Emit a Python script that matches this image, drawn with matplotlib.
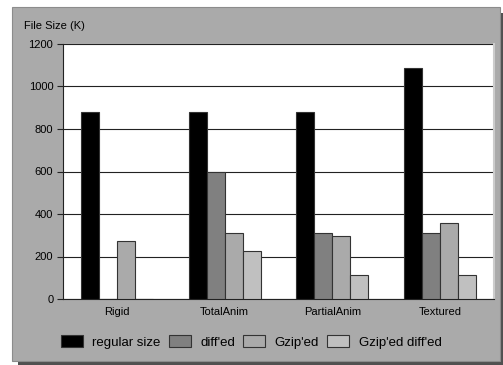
import numpy as np
import matplotlib.pyplot as plt
from matplotlib.patches import Rectangle

categories = ['Rigid', 'TotalAnim', 'PartialAnim', 'Textured']
series_names = ['regular size', "diff'ed", "Gzip'ed", "Gzip'ed diff'ed"]
regular_size = [880, 880, 880, 1085]
diffed = [0, 600, 312, 312]
gzipped = [275, 312, 297, 356]
gzip_diffed = [0, 228, 115, 115]
yticks = [0, 200, 400, 600, 800, 1000, 1200]

colors = ['#000000', '#808080', '#aaaaaa', '#c0c0c0']

plt.rcParams['font.family'] = ['Liberation Sans', 'DejaVu Sans']

W, H = 503, 365
fig = plt.figure(figsize=(W / 100, H / 100), dpi=100, facecolor='white')

# grey frame with drop shadow, in pixel coords converted to figure fractions
def px_rect(x0, y0, x1, y1, **kw):
    r = Rectangle((x0 / W, 1 - y1 / H), (x1 - x0) / W, (y1 - y0) / H,
                  transform=fig.transFigure, **kw)
    fig.patches.append(r)

px_rect(18, 13, 503, 365, facecolor='#505050', edgecolor='none', zorder=0)
px_rect(12, 7, 500, 361, facecolor='#aaaaaa', edgecolor='#8c8c8c', lw=0.8, zorder=1)

ax = fig.add_axes([63 / W, 1 - 299 / H, (494 - 63) / W, (299 - 44) / H])
ax.set_facecolor('white')
ax.set_zorder(2)

x = np.arange(len(categories))
width = 1 / 6
data = [regular_size, diffed, gzipped, gzip_diffed]
for i, (vals, name) in enumerate(zip(data, series_names)):
    ax.bar(x + (i - 1.5) * width, vals, width, color=colors[i], label=name,
           edgecolor='#333333', linewidth=0.8, zorder=3)

ax.set_xlim(-0.5, len(categories) - 0.5)
ax.set_ylim(0, 1200)
ax.set_yticks(yticks)
ax.set_yticklabels([str(v) for v in yticks], fontsize=8)
ax.set_xticks(x)
ax.set_xticklabels(categories, fontsize=8)
ax.tick_params(axis='x', length=0, pad=6)
ax.tick_params(axis='y', length=4, width=0.8, color='#222222', pad=3)
ax.yaxis.grid(True, color='#222222', linewidth=0.8, zorder=1)
ax.set_axisbelow(True)

ax.spines['top'].set_visible(False)
ax.spines['right'].set_color('#cccccc')
ax.spines['right'].set_linewidth(1.5)
for s in ['left', 'bottom']:
    ax.spines[s].set_color('#222222')
    ax.spines[s].set_linewidth(0.8)

fig.text(24 / W, 1 - 26 / H, 'File Size (K)', fontsize=8, va='center', ha='left', zorder=3)

leg = fig.legend(loc='center', bbox_to_anchor=(251 / W, 1 - 342 / H), ncol=4,
                 frameon=False, fontsize=9.5, handlelength=1.7, handleheight=1.0,
                 handletextpad=0.7, columnspacing=0.6)

fig.savefig('out.png', dpi=100, facecolor='white')
